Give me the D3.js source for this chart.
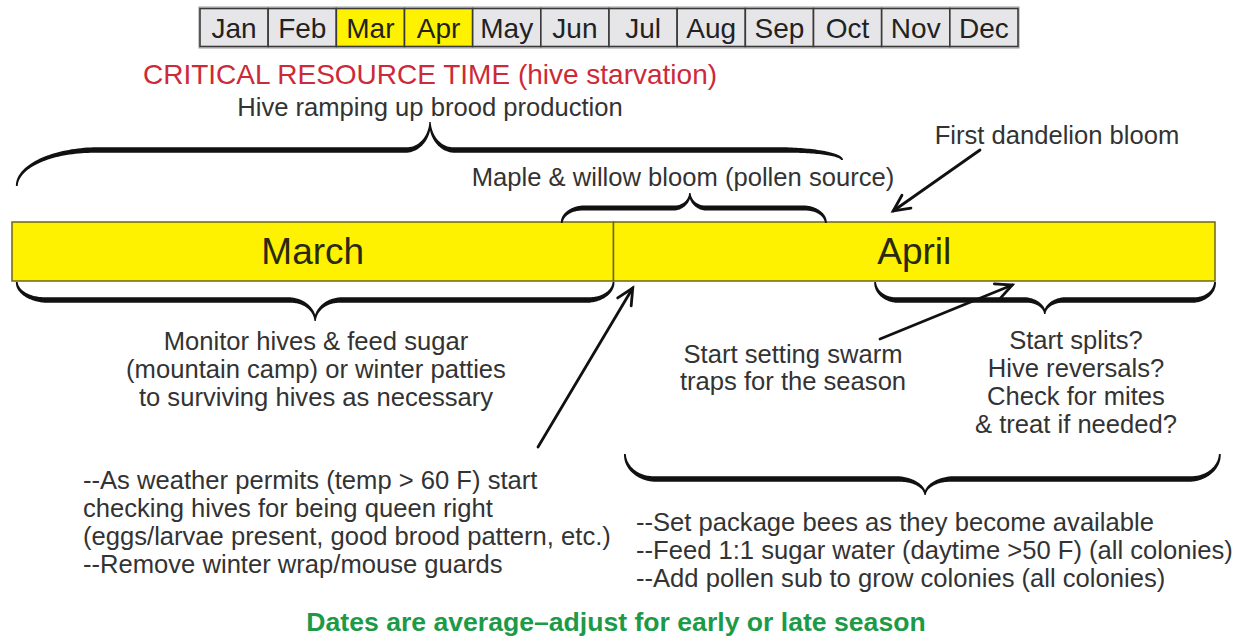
<!DOCTYPE html>
<html>
<head>
<meta charset="utf-8">
<script src="https://cdn.jsdelivr.net/npm/d3@7"></script>
<style>
  body { margin: 0; background: #fff; }
  text { font-family: "Liberation Sans", Arial, sans-serif; }
</style>
</head>
<body>
<svg></svg>
<script>
// ---- data ----
var months = ['Jan','Feb','Mar','Apr','May','Jun','Jul','Aug','Sep','Oct','Nov','Dec']
var highlighted = ['Mar','Apr']

// periods on the timeline, measured in months from March 1
var periodNames = ['March','April']
var periodStart = [0, 1]
var periodEnd = [1, 2]

// braces: [start, cusp, end] in months from March 1
var braceBrood = [0.008, 0.695, 1.38]
var braceMaple = [0.914, 1.127, 1.353]
var braceMarch = [0.008, 0.504, 1.0]
var braceApril = [1.435, 1.717, 2.0]
var braceLate = [1.019, 1.518, 2.008]

// points in time the arrows point at
var dandelionAt = 1.465
var queenCheckAt = 1.032
var swarmAt = 1.663

var titleText = 'CRITICAL RESOURCE TIME (hive starvation)'
var broodText = 'Hive ramping up brood production'
var mapleText = 'Maple & willow bloom (pollen source)'
var dandelionText = 'First dandelion bloom'
var monitorLines = ['Monitor hives & feed sugar', '(mountain camp) or winter patties', 'to surviving hives as necessary']
var swarmLines = ['Start setting swarm', 'traps for the season']
var splitLines = ['Start splits?', 'Hive reversals?', 'Check for mites', '& treat if needed?']
var marchTasks = ['--As weather permits (temp > 60 F) start', 'checking hives for being queen right',
                  '(eggs/larvae present, good brood pattern, etc.)', '--Remove winter wrap/mouse guards']
var aprilTasks = ['--Set package bees as they become available', '--Feed 1:1 sugar water (daytime >50 F) (all colonies)',
                  '--Add pollen sub to grow colonies (all colonies)']
var footText = 'Dates are average\u2013adjust for early or late season'

// ---- layout ----
var width = 1238, height = 641
var svg = d3.select('svg').attr('width', width).attr('height', height)

var ink = '#333'
var body = 25.6

// month strip
var monthScale = d3.scaleBand().domain(months).range([200, 1018])
var strip = svg.append('g')
strip.append('rect')
    .attr('x', 199).attr('y', 7).attr('width', 820).attr('height', 41)
    .attr('fill', 'none').attr('stroke', '#999').attr('stroke-width', 1)
strip.selectAll('rect.cell').data(months).enter().append('rect')
    .attr('class', 'cell')
    .attr('x', d => monthScale(d))
    .attr('y', 8.5)
    .attr('width', monthScale.bandwidth())
    .attr('height', 38)
    .attr('fill', d => highlighted.includes(d) ? '#fff200' : '#e6e6e9')
    .attr('stroke', '#3a3a3a')
    .attr('stroke-width', 1.6)
strip.selectAll('text').data(months).enter().append('text')
    .attr('x', d => monthScale(d) + monthScale.bandwidth() / 2)
    .attr('y', 38)
    .attr('text-anchor', 'middle')
    .attr('font-size', 28)
    .attr('fill', '#222')
    .text(d => d)

// timeline scale
var x = d3.scaleLinear().domain([0, 2]).range([12, 1215])

// the yellow bar
var barTop = 222, barBottom = 281
svg.append('g').selectAll('rect').data(periodNames).enter().append('rect')
    .attr('x', (d, i) => x(periodStart[i]))
    .attr('y', barTop)
    .attr('width', (d, i) => x(periodEnd[i]) - x(periodStart[i]))
    .attr('height', barBottom - barTop)
    .attr('fill', '#fff200')
    .attr('stroke', '#6b6620')
    .attr('stroke-width', 1.5)
svg.append('g').selectAll('text').data(periodNames).enter().append('text')
    .attr('x', (d, i) => (x(periodStart[i]) + x(periodEnd[i])) / 2)
    .attr('y', 264)
    .attr('text-anchor', 'middle')
    .attr('font-size', 37)
    .attr('fill', '#2a2a10')
    .text(d => d)

// curly brace drawn as a filled, tapered shape
function brace(span, o) {
    var xl = x(span[0]), xc = x(span[1]), xr = x(span[2])
    var pts = []
    var n = 40
    function push(px, py, w) { pts.push([px, py, w]) }
    // left tip arc
    for (var i = 0; i <= n; i++) {
        var t = i / n * Math.PI / 2
        push(xl + o.rl * (1 - Math.cos(t)), o.y0 + (o.line - o.y0) * Math.sin(t), 0.9 + (o.w - 0.9) * i / n)
    }
    // left cusp arc
    for (var i = 0; i <= n; i++) {
        var t = i / n * Math.PI / 2
        push(xc - o.rc + o.rc * Math.sin(t), o.cusp + (o.line - o.cusp) * Math.cos(t), o.w - (o.w - 0.7) * i / n)
    }
    // right cusp arc
    for (var i = n; i >= 0; i--) {
        var t = i / n * Math.PI / 2
        push(xc + o.rc - o.rc * Math.sin(t), o.cusp + (o.line - o.cusp) * Math.cos(t), o.w - (o.w - 0.7) * i / n)
    }
    // right tip arc
    for (var i = n; i >= 0; i--) {
        var t = i / n * Math.PI / 2
        push(xr - o.rr * (1 - Math.cos(t)), o.y1 + (o.line - o.y1) * Math.sin(t), 0.9 + (o.w - 0.9) * i / n)
    }
    // offset both sides along the normal
    var left = [], right = []
    pts.forEach((p, k) => {
        var a = pts[Math.max(0, k - 1)], b = pts[Math.min(pts.length - 1, k + 1)]
        var dx = b[0] - a[0], dy = b[1] - a[1]
        var len = Math.hypot(dx, dy) || 1
        var nx = -dy / len, ny = dx / len
        left.push([p[0] + nx * p[2], p[1] + ny * p[2]])
        right.push([p[0] - nx * p[2], p[1] - ny * p[2]])
    })
    var poly = left.concat(right.reverse())
    svg.append('path')
        .attr('d', d3.line()(poly) + 'Z')
        .attr('fill', '#111')
}

brace(braceBrood, {y0: 186, y1: 160, line: 150, cusp: 122, rl: 80, rr: 60, rc: 24, w: 2.8})
brace(braceMaple, {y0: 223, y1: 223, line: 208, cusp: 193, rl: 22, rr: 22, rc: 16, w: 2.6})
brace(braceMarch, {y0: 282, y1: 282, line: 300, cusp: 321, rl: 30, rr: 26, rc: 26, w: 2.8})
brace(braceApril, {y0: 282, y1: 282, line: 300, cusp: 314, rl: 22, rr: 22, rc: 20, w: 2.8})
brace(braceLate, {y0: 454, y1: 454, line: 479, cusp: 495, rl: 30, rr: 30, rc: 28, w: 2.8})

// arrows with an open V head
function arrow(x1, y1, x2, y2) {
    var g = svg.append('g').attr('stroke', '#111').attr('stroke-width', 2.8)
        .attr('stroke-linecap', 'round').attr('fill', 'none')
    g.append('line').attr('x1', x1).attr('y1', y1).attr('x2', x2).attr('y2', y2)
    var ang = Math.atan2(y2 - y1, x2 - x1), size = 18, spread = 0.45
    g.append('path').attr('d', d3.line()([
        [x2 - size * Math.cos(ang - spread), y2 - size * Math.sin(ang - spread)],
        [x2, y2],
        [x2 - size * Math.cos(ang + spread), y2 - size * Math.sin(ang + spread)]
    ]))
}
arrow(980, 150, x(dandelionAt), 211)
arrow(538, 447, x(queenCheckAt), 288)
arrow(880, 339, x(swarmAt), 285)

// text helpers
function label(t, px, py, size, anchor, color, weight) {
    return svg.append('text')
        .attr('x', px).attr('y', py)
        .attr('text-anchor', anchor || 'middle')
        .attr('font-size', size)
        .attr('fill', color || ink)
        .attr('font-weight', weight || 'normal')
        .text(t)
}
function block(lines, px, py, step, size, anchor) {
    lines.forEach((t, i) => label(t, px, py + i * step, size, anchor))
}

label(titleText, 430, 84, 28, 'middle', '#cc2a38')
label(broodText, 430, 116, body)
label(dandelionText, 1057, 144, body)
label(mapleText, 683, 186, body)
block(monitorLines, 316, 350, 28, body)
block(swarmLines, 793, 363, 27, body)
block(splitLines, 1076, 349, 28, body)
block(marchTasks, 83, 489, 28, body, 'start')
block(aprilTasks, 636, 531, 28, body, 'start')
label(footText, 616, 631, 26.6, 'middle', '#1d9a48', 'bold')
</script>
</body>
</html>
